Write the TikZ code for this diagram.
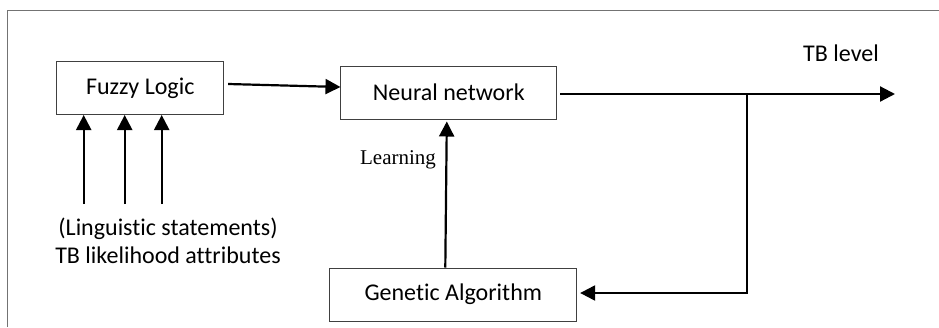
\documentclass[tikz,border=0pt]{standalone}
\usepackage{fontspec}
\setmainfont[Ligatures=NoCommon]{Carlito}
\newfontfamily\timesfont{Liberation Serif}
\usetikzlibrary{arrows.meta}
\tikzset{
  block/.style={draw=black!75, line width=1pt, minimum height=53pt, inner sep=0pt,
    font=\fontsize{24}{28}\selectfont},
  arr/.style={line width=2.2pt, -{Triangle[length=15pt,width=15pt]}},
  lbl/.style={font=\fontsize{24}{28}\selectfont, align=center, inner sep=0pt},
}
\begin{document}
\begin{tikzpicture}[x=1pt,y=-1pt]
  \useasboundingbox (0,0) rectangle (939,327);
  % open frame (top and left edges)
  \draw[black!55, line width=1pt] (7,327) -- (7,10) -- (939,10);

  % blocks
  \node[block, minimum width=166.7pt] (fl) at (140.3,88) {Fuzzy Logic};
  \node[block, minimum width=215.7pt] (nn) at (448.8,92.5) {Neural network};
  \node[block, minimum width=246.7pt] (ga) at (453.3,294.5) {Genetic Algorithm};

  % fuzzy logic feeds the network
  \draw[arr] ([xshift=4pt,yshift=4pt]fl.east) -- ([yshift=5.5pt]nn.west);

  % linguistic inputs
  \coordinate (in1) at (83.7,204);
  \coordinate (in2) at (124.7,204);
  \coordinate (in3) at (161.7,204);
  \foreach \c in {in1,in2,in3}
    \draw[arr] (\c) -- (\c |- fl.south);
  \node[lbl] (inputs) at (168,241) {(Linguistic statements)\\TB likelihood attributes};

  % learning path
  \draw[arr] ([xshift=-8pt]ga.north) -- ([xshift=-2pt,yshift=-2pt]nn.south);
  \node[font=\timesfont\fontsize{21}{24}\selectfont, inner sep=0pt] (learn) at (398,160) {Learning};

  % output and feedback
  \coordinate (out) at (895,94);
  \coordinate (br) at (747.3,94);
  \draw[arr] ([xshift=3pt,yshift=-1.5pt]nn.east) -- (out);
  \node[lbl] (tb) at (841,53) {TB level};
  \draw[arr] (br) |- ([xshift=3pt,yshift=1.5pt]ga.east);
\end{tikzpicture}
\end{document}
